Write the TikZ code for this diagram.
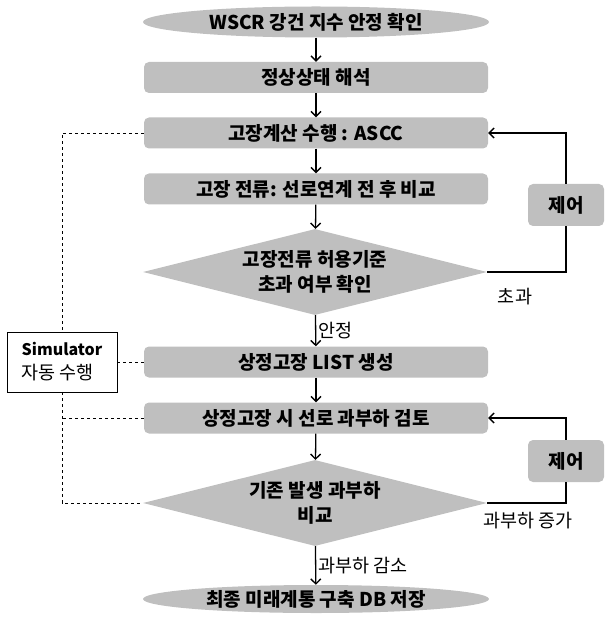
\documentclass[tikz,border=0pt]{standalone}
\usepackage{fontspec}
\setmainfont{Noto Sans CJK KR}
\usetikzlibrary{arrows.meta,shapes.geometric,positioning}
\definecolor{boxgray}{RGB}{191,191,191}

\tikzset{
  stepbox/.style={fill=boxgray,rounded corners=5pt,minimum width=344pt,minimum height=31pt,inner sep=0pt,font=\bfseries\fontsize{19}{21}\selectfont},
  endcap/.style={ellipse,fill=boxgray,minimum width=346pt,minimum height=31pt,inner sep=0pt,font=\bfseries\fontsize{19}{21}\selectfont},
  check/.style={diamond,fill=boxgray,aspect=4,inner sep=0pt,minimum width=344pt,minimum height=86pt,align=center,font=\bfseries\fontsize{19}{25}\selectfont},
  ctrl/.style={fill=boxgray,rounded corners=5pt,minimum width=76pt,minimum height=42pt,inner sep=0pt,font=\bfseries\fontsize{19}{21}\selectfont},
  flow/.style={-{Straight Barb[length=5pt,width=10pt]},line width=1.3pt},
  link/.style={dashed,line width=0.8pt},
  lbl/.style={font=\fontsize{18.5}{20}\selectfont}
}

\begin{document}
\begin{tikzpicture}[x=1pt,y=-1pt]
  \useasboundingbox (0,0) rectangle (604,617);
  % main flow
  \node[endcap] (start) at (316,22) {WSCR 강건 지수 안정 확인};
  \node[stepbox] (steady) at (316,77.5) {정상상태 해석};
  \node[stepbox] (fault) at (316,133) {고장계산 수행 : ASCC};
  \node[stepbox] (current) at (316,189) {고장 전류: 선로연계 전 후 비교};
  \node[check] (chk1) at (315,272) {고장전류 허용기준\\초과 여부 확인};
  \node[stepbox] (list) at (316,362) {상정고장 LIST 생성};
  \node[stepbox] (overload) at (316,418) {상정고장 시 선로 과부하 검토};
  \node[check] (chk2) at (315,503) {기존 발생 과부하\\비교};
  \node[endcap,minimum height=28pt] (final) at (316,599) {최종 미래계통 구축 DB 저장};
  % side boxes
  \node[ctrl] (ctrl1) at (566,205) {제어};
  \node[ctrl] (ctrl2) at (566,461) {제어};
  \node[draw,line width=0.8pt,fill=white,align=left,minimum width=110pt,minimum height=60pt,inner sep=3pt,font=\fontsize{18.5}{24}\selectfont] (sim) at (62,362) {{\bfseries\fontsize{16}{24}\selectfont Simulator}\\자동 수행};

  \draw[flow] (start) -- (steady);
  \draw[flow] (steady) -- (fault);
  \draw[flow] (fault) -- (current);
  \draw[flow] (current) -- (chk1);
  \draw[flow] (chk1) -- node[lbl,right,inner sep=2pt] {안정} (list);
  \draw[flow] (list) -- (overload);
  \draw[flow] (overload) -- (chk2);
  \draw[flow] (chk2) -- node[lbl,right,inner sep=2pt] {과부하 감소} (final);

  % feedback loops
  \draw[line width=1.3pt] (chk1.east) -| (ctrl1.south);
  \draw[flow] (ctrl1.north) |- (fault.east);
  \draw[line width=1.3pt] (chk2.east) -| (ctrl2.south);
  \draw[flow] (ctrl2.north) |- (overload.east);
  \node[lbl] (over1) at (515,297) {초과};
  \node[lbl] (over2) at (528,521) {과부하 증가};

  % simulator links
  \draw[link] (fault.west) -| (sim.north);
  \draw[link] (list.west) -- (sim.east);
  \draw[link] (overload.west) -- (overload.west -| sim.south);
  \draw[link] (sim.south) |- (chk2.west);
\end{tikzpicture}
\end{document}
